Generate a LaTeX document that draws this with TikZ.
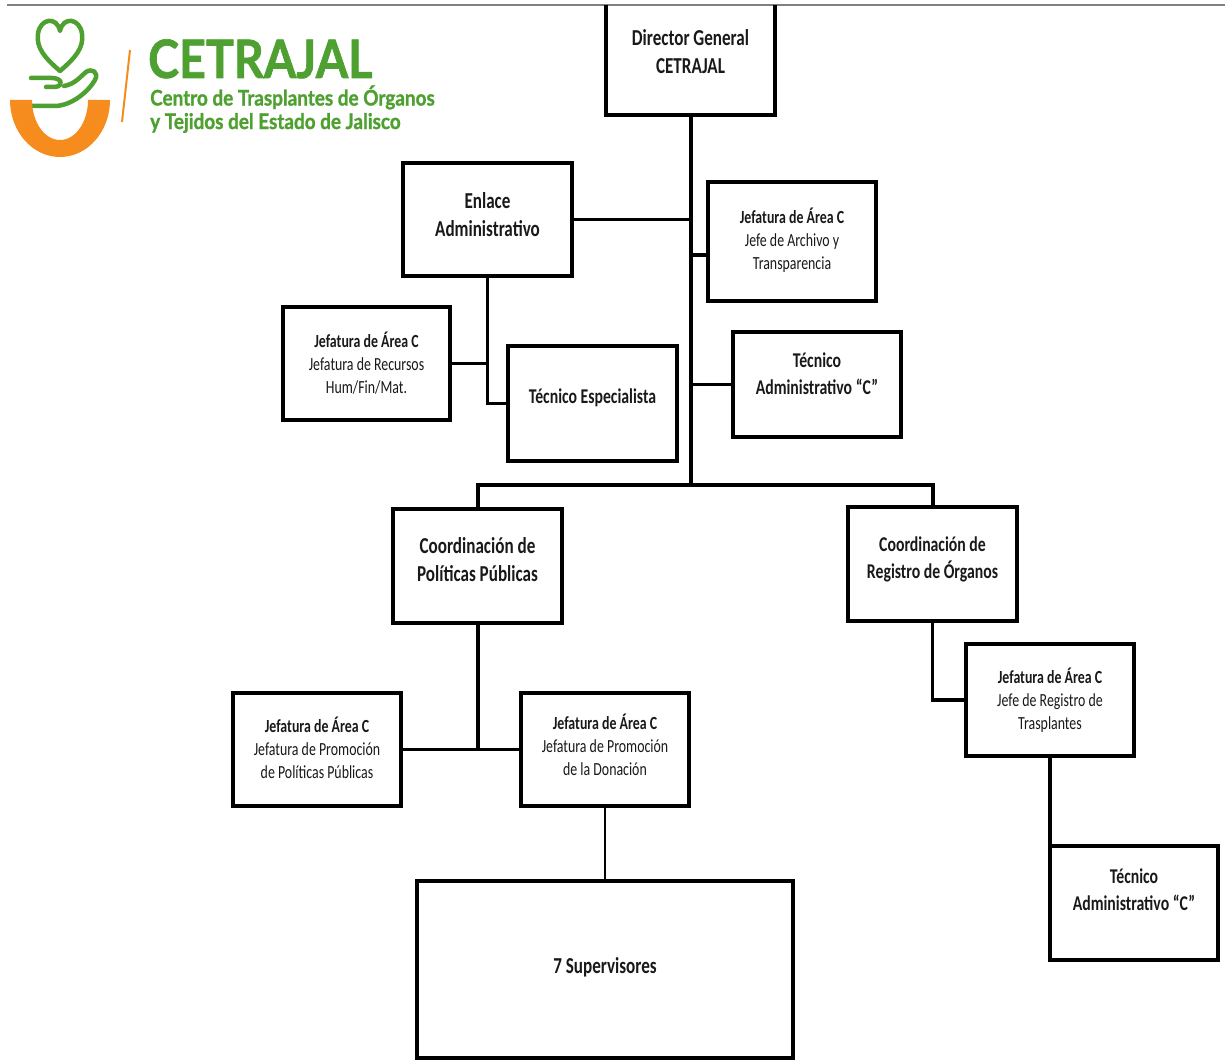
\documentclass[tikz,border=0pt]{standalone}
\usepackage{fontspec}
\setmainfont{Carlito}[FakeStretch=0.75]
\newfontfamily\logofont{Lato}[FakeStretch=0.88, BoldFeatures={FakeBold=1.2}]
\usetikzlibrary{calc}
\definecolor{logogreen}{RGB}{78,160,48}
\definecolor{logoorange}{RGB}{246,140,30}
\tikzset{
	box/.style={draw, line width=3.6pt, rectangle, inner sep=0pt, outer sep=0pt, align=center, text=black!90},
	link/.style={line width=3.4pt},
	trunk/.style={line width=4pt},
	bigtxt/.style={font=\fontsize{22.8}{28}\selectfont\bfseries},
	midtxt/.style={font=\fontsize{21}{27}\selectfont\bfseries},
	smalltxt/.style={font=\fontsize{18.5}{23}\selectfont},
	hand/.style={logogreen, line width=4.5pt, line cap=round, line join=round},
}

\begin{document}
\begin{tikzpicture}[x=1pt, y=-1pt]
		%%%%% START %%%%%
		\useasboundingbox (0, 0) rectangle (1225, 1062);
		
		% logo
		\draw[hand] (60, 71) .. controls (45, 58) and (36, 48) .. (38, 34) .. controls (40, 18) and (57, 16) .. (60, 31) .. controls (63, 16) and (80, 18) .. (82, 34) .. controls (84, 48) and (75, 58) .. (60, 71);
		\draw[hand] (31, 78) -- (52, 78) .. controls (62, 78) and (64, 86) .. (55, 87) -- (46, 87);
		\draw[hand] (31, 106) -- (56, 106) .. controls (72, 105) and (88, 92) .. (95, 80) .. controls (99, 72) and (92, 68) .. (86, 72) .. controls (80, 77) and (75, 84) .. (64, 86);
		\fill[logoorange] (10, 100) arc[start angle=180, end angle=0, x radius=50, y radius=57] -- (88, 100) arc[start angle=0, end angle=180, x radius=28, y radius=40] -- cycle;
		\draw[logoorange, line width=2pt] (130, 50) -- (122, 122);
		\node[anchor=base west, inner sep=0pt, text=logogreen, font=\logofont\bfseries\fontsize{53}{53}\selectfont] (logo) at (148, 78) {CETRAJAL};
		\node[anchor=base west, inner sep=0pt, text=logogreen, font=\logofont\bfseries\fontsize{21.5}{23.5}\selectfont, align=left] (logosub) at (150, 129) {Centro de Trasplantes de Órganos\\y Tejidos del Estado de Jalisco};
		
		\draw[line width=2pt, black!50] (7, 5) -- (1225, 5);
		
		% boxes
		\node[box, draw=none, bigtxt, minimum width=169, minimum height=110, text depth=16pt] (dir) at (690.5, 60) {Director General\\CETRAJAL};
		\draw[line width=3.6pt] (dir.north west) |- (dir.south east) -- (dir.north east);
		
		\node[box, bigtxt, minimum width=169, minimum height=113, text depth=11pt] (enl) at (487.5, 219.5) {Enlace\\Administrativo};
		\node[box, smalltxt, minimum width=168, minimum height=119, text depth=5pt] (arch) at (792, 241.5) {\textbf{Jefatura de Área C}\\Jefe de Archivo y\\Transparencia};
		\node[box, midtxt, minimum width=168, minimum height=105, text depth=22pt] (tadm) at (817, 384.5) {Técnico\\Administrativo “C”};
		\node[box, smalltxt, minimum width=167, minimum height=113] (jrec) at (366.5, 363.5) {\textbf{Jefatura de Área C}\\Jefatura de Recursos\\Hum/Fin/Mat.};
		\node[box, midtxt, minimum width=169, minimum height=115, text depth=15pt] (tesp) at (592.5, 403.5) {Técnico Especialista};
		
		\node[box, bigtxt, minimum width=169, minimum height=114, text depth=14pt] (cpol) at (477.5, 566) {Coordinación de\\Políticas Públicas};
		\node[box, midtxt, minimum width=169, minimum height=114, text depth=13pt] (creg) at (932.5, 564) {Coordinación de\\Registro de Órganos};
		
		\node[box, smalltxt, minimum width=168, minimum height=113, text depth=3pt] (jpp) at (317, 749.5) {\textbf{Jefatura de Área C}\\Jefatura de Promoción\\de Políticas Públicas};
		\node[box, smalltxt, minimum width=168, minimum height=113, text depth=9pt] (jpd) at (605, 749.5) {\textbf{Jefatura de Área C}\\Jefatura de Promoción\\de la Donación};
		\node[box, bigtxt, minimum width=376, minimum height=177, text depth=9pt] (sup) at (605, 969.5) {7 Supervisores};
		
		\node[box, smalltxt, minimum width=168, minimum height=112] (jreg) at (1050, 700) {\textbf{Jefatura de Área C}\\Jefe de Registro de\\Trasplantes};
		\node[box, midtxt, minimum width=168, minimum height=114, text depth=26pt] (tadm2) at (1134, 903) {Técnico\\Administrativo “C”};
		
		% connectors
		\coordinate (bus) at (690.5, 485);
		\draw[trunk] (dir.south) -- (bus);
		\draw[link] (enl.east) -- (enl.east -| bus);
		\draw[link] ([yshift=-13.5pt]arch.west) -- ([yshift=-13.5pt]arch.west -| bus);
		\draw[link] (tadm.west) -- (tadm.west -| bus);
		\draw[trunk] (cpol.north) |- (bus) -| (creg.north);
		
		\draw[link] (enl.south) |- (tesp.west);
		\draw[link] (jrec.east) -- (jrec.east -| enl.south);
		
		\draw[trunk] (cpol.south) -- (cpol.south |- jpd.west);
		\draw[link] (jpp.east) -- (jpd.west);
		\draw[line width=2.2pt] (jpd.south) -- (sup.north);
		
		\draw[link] (creg.south) |- (jreg.west);
		\draw[link] (jreg.south) -- (tadm2.north west);
		%%%%% END %%%%%
\end{tikzpicture}
\end{document}
